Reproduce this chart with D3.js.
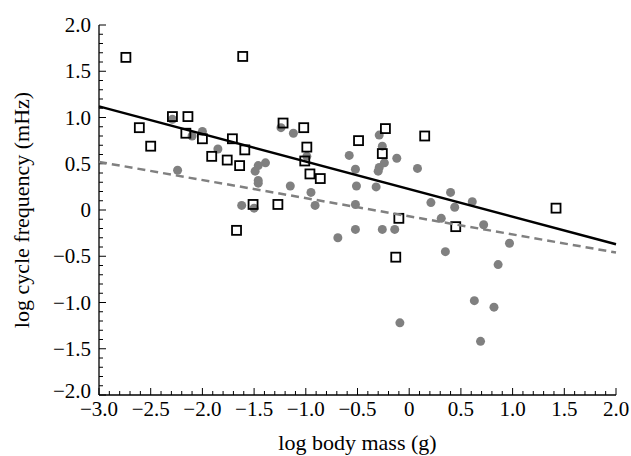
<!DOCTYPE html>
<html lang="en">
<head>
<meta charset="UTF-8">
<title>cycle frequency vs body mass</title>
<script src="https://d3js.org/d3.v7.min.js"></script>
<style>
  body, html { margin: 0; background: #fff; }
  svg text { font-family: "Times New Roman", "Liberation Serif", "DejaVu Serif", serif; }
</style>
</head>
<body>
<div id="chart"></div>
<script>
// open squares
const squareX = [-2.74, -1.61, -2.29, -2.14, -2.61, -2.16, -2.50, -2.00, -1.71, -1.59, -1.91, -1.76, -1.64,
  -1.22, -1.02, -0.99, -1.01, -0.96, -0.86, -1.51, -1.27, -1.67, -0.49, -0.23, 0.15, -0.26, -0.10, -0.13, 0.45, 1.42];
const squareY = [1.65, 1.66, 1.01, 1.01, 0.89, 0.83, 0.69, 0.77, 0.77, 0.65, 0.58, 0.54, 0.48,
  0.94, 0.89, 0.68, 0.53, 0.39, 0.34, 0.06, 0.06, -0.22, 0.75, 0.88, 0.80, 0.61, -0.09, -0.51, -0.18, 0.02];
// filled circles
const circleX = [-2.29, -2.24, -2.10, -2.00, -1.85, -1.49, -1.46, -1.39, -1.46, -1.46, -1.62, -1.50, -1.15,
  -1.24, -1.12, -0.99, -0.95, -0.91, -0.69, -0.58, -0.52, -0.51, -0.52, -0.52, -0.29, -0.26, -0.24, -0.29,
  -0.30, -0.12, -0.32, -0.26, -0.14, -0.09, 0.08, 0.21, 0.40, 0.44, 0.31, 0.35, 0.61, 0.72, 0.97, 0.86, 0.63, 0.82, 0.69];
const circleY = [0.98, 0.43, 0.80, 0.85, 0.66, 0.42, 0.48, 0.51, 0.32, 0.29, 0.05, 0.02, 0.26,
  0.89, 0.83, 0.58, 0.19, 0.05, -0.30, 0.59, 0.44, 0.26, 0.06, -0.21, 0.81, 0.69, 0.51, 0.46,
  0.42, 0.56, 0.25, -0.21, -0.21, -1.22, 0.45, 0.08, 0.19, 0.03, -0.09, -0.45, 0.09, -0.16, -0.36, -0.59, -0.98, -1.05, -1.42];
// fitted lines
const solidFit = [[-3, 1.12], [2, -0.37]];
const dashedFit = [[-3, 0.52], [2, -0.46]];
const xTicks = [-3, -2.5, -2, -1.5, -1, -0.5, 0, 0.5, 1, 1.5, 2];
const yTicks = [2, 1.5, 1, 0.5, 0, -0.5, -1, -1.5, -2];

const width = 631, height = 456;
const svg = d3.select("#chart").append("svg").attr("width", width).attr("height", height);

const x = d3.scaleLinear().domain([-3, 2]).range([99, 616]);
const y = d3.scaleLinear().domain([-2, 2]).range([395, 25]);
const fmt = d => d === 0 ? "0" : d3.format(".1f")(d).replace("-", "\u2212");
const isMajor = d => Math.abs(d * 2 - Math.round(d * 2)) < 1e-6;

const minor = d3.range(-30, 21).map(i => i / 10);
const minorY = d3.range(-20, 21).map(i => i / 10);

// x axis
const gx = svg.append("g");
gx.append("line").attr("x1", x(-3)).attr("x2", x(2)).attr("y1", y(-2)).attr("y2", y(-2)).attr("stroke", "#000").attr("stroke-width", 1.3);
gx.selectAll(".mt").data(minor).join("line")
  .attr("x1", d => x(d)).attr("x2", d => x(d))
  .attr("y1", y(-2)).attr("y2", d => y(-2) - (isMajor(d) ? 7 : 4))
  .attr("stroke", "#000").attr("stroke-width", 1);
gx.selectAll("text").data(xTicks).join("text")
  .attr("x", d => x(d)).attr("y", y(-2) + 21).attr("text-anchor", "middle")
  .attr("font-size", 21).text(fmt);

// y axis
const gy = svg.append("g");
gy.append("line").attr("x1", x(-3)).attr("x2", x(-3)).attr("y1", y(-2)).attr("y2", y(2)).attr("stroke", "#000").attr("stroke-width", 1.3);
gy.selectAll(".mt").data(minorY).join("line")
  .attr("y1", d => y(d)).attr("y2", d => y(d))
  .attr("x1", x(-3)).attr("x2", d => x(-3) + (isMajor(d) ? 7 : 4))
  .attr("stroke", "#000").attr("stroke-width", 1);
gy.selectAll("text").data(yTicks.filter(d => d !== -2)).join("text")
  .attr("x", x(-3) - 8).attr("y", d => y(d) + 7).attr("text-anchor", "end")
  .attr("font-size", 21).text(fmt);
// bottom y label sits slightly higher so it clears the x tick labels
gy.append("text").attr("x", x(-3) - 8).attr("y", y(-2) + 3).attr("text-anchor", "end")
  .attr("font-size", 21).text(fmt(-2));

svg.append("text").attr("x", (x(-3) + x(2)) / 2).attr("y", 450).attr("text-anchor", "middle")
  .attr("font-size", 22).text("log body mass (g)");
svg.append("text").attr("transform", `translate(29,${(y(2) + y(-2)) / 2}) rotate(-90)`)
  .attr("text-anchor", "middle").attr("font-size", 22).text("log cycle frequency (mHz)");

// circles
svg.append("g").selectAll("circle").data(circleX.map((d, i) => [d, circleY[i]])).join("circle")
  .attr("cx", d => x(d[0])).attr("cy", d => y(d[1])).attr("r", 4.5).attr("fill", "#808080");

// squares
svg.append("g").selectAll("rect").data(squareX.map((d, i) => [d, squareY[i]])).join("rect")
  .attr("x", d => x(d[0]) - 4.5).attr("y", d => y(d[1]) - 4.5).attr("width", 9).attr("height", 9)
  .attr("fill", "none").attr("stroke", "#000").attr("stroke-width", 1.8);

const line = d3.line().x(d => x(d[0])).y(d => y(d[1]));
svg.append("path").attr("d", line(dashedFit)).attr("fill", "none")
  .attr("stroke", "#808080").attr("stroke-width", 2.5).attr("stroke-dasharray", "8,5");
svg.append("path").attr("d", line(solidFit)).attr("fill", "none")
  .attr("stroke", "#000").attr("stroke-width", 2.5);
</script>
</body>
</html>
